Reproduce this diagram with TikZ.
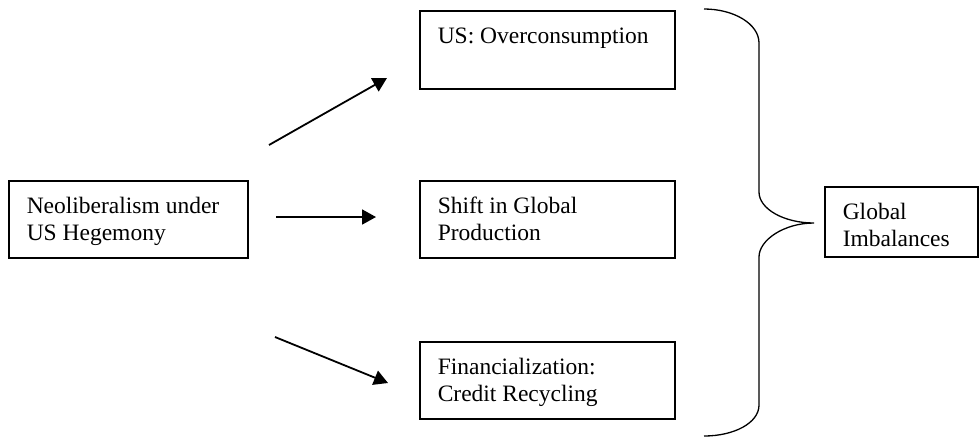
\documentclass[tikz,border=0pt]{standalone}
\usepackage{fontspec}
\setmainfont{Liberation Serif}
\usetikzlibrary{arrows.meta}
\newcommand{\bxtext}[3]{\parbox[c][#2][t]{#1}{\raggedright\leftskip=18pt\rule{0pt}{33pt}#3}}
\tikzset{
  boxnode/.style={draw, line width=1.5pt, inner sep=0pt, anchor=north west,
    font=\fontsize{23.5pt}{27pt}\selectfont},
  flowarrow/.style={line width=1.8pt, -{Triangle[length=14pt,width=15pt]}},
  bracepath/.style={line width=1.3pt}
}
\begin{document}
\begin{tikzpicture}[x=1pt,y=-1pt]
\useasboundingbox (0,0) rectangle (979,437);
\node[boxnode] (A) at (8,180) {\bxtext{239pt}{77pt}{Neoliberalism under\\US Hegemony}};
\node[boxnode] (B) at (419,10) {\bxtext{255pt}{78pt}{US: Overconsumption}};
\node[boxnode] (C) at (419,180) {\bxtext{255pt}{77pt}{Shift in Global\\Production}};
\node[boxnode] (D) at (419,341) {\bxtext{255pt}{77pt}{Financialization:\\Credit Recycling}};
\node[boxnode] (E) at (824,186) {\bxtext{153pt}{70pt}{Global\\Imbalances}};
\coordinate (a1s) at (269,145);
\coordinate (a1e) at (387,78);
\coordinate (a2s) at (276,217);
\coordinate (a2e) at (376,217);
\coordinate (a3s) at (275,337);
\coordinate (a3e) at (388,383);
\draw[flowarrow] (a1s) -- (a1e);
\draw[flowarrow] (a2s) -- (a2e);
\draw[flowarrow] (a3s) -- (a3e);
\coordinate (btop) at (704,9);
\coordinate (btip) at (814,223);
\coordinate (bbot) at (704,436);
\draw[bracepath] (btop) .. controls (734,9) and (759,24) .. (759,43)
  -- (759,192) .. controls (759,209) and (784,223) .. (btip)
  .. controls (784,223) and (759,240) .. (759,257)
  -- (759,405) .. controls (759,423) and (734,436) .. (bbot);
\end{tikzpicture}
\end{document}
